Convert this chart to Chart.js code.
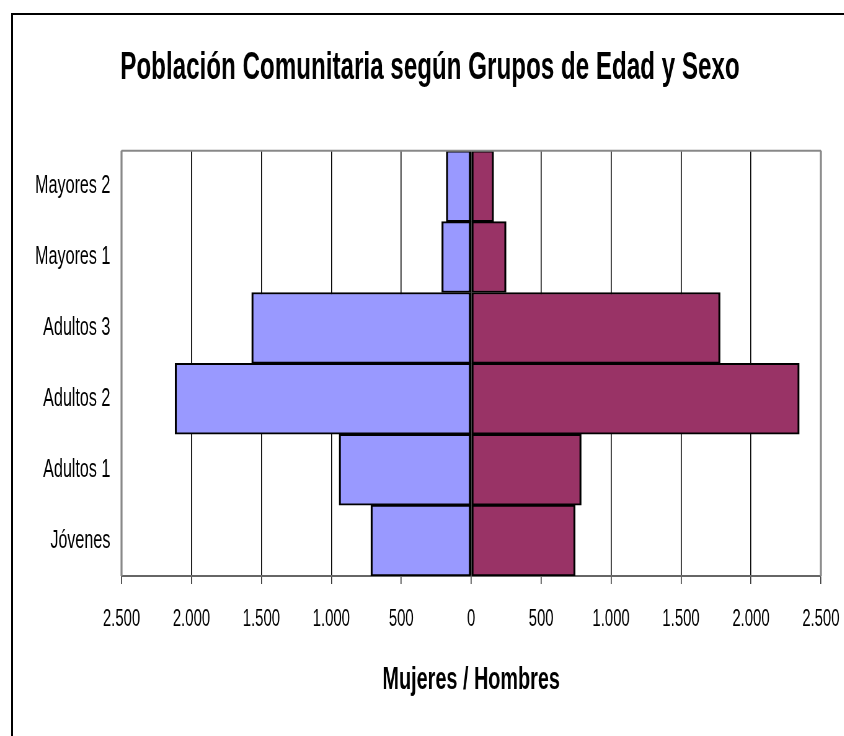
<!DOCTYPE html>
<html>
<head>
<meta charset="utf-8">
<script src="https://cdn.jsdelivr.net/npm/chart.js@4.4.0/dist/chart.umd.min.js"></script>
<style>
  body { margin: 0; background: #fff; overflow: hidden; }
  .frame {
    position: absolute; left: 11px; top: 13px; width: 900px; height: 800px;
    border: 2px solid #000;
  }
  /* the original text is very condensed, so the chart is drawn wide and squeezed */
  .wrap { position: absolute; left: 0; top: 0; width: 844px; height: 736px; overflow: hidden; }
  #chart { transform: scaleX(0.62); transform-origin: 0 0; }
</style>
</head>
<body>
<div class="frame"></div>
<div class="wrap"><canvas id="chart" width="1361" height="736"></canvas></div>
<script>
// age groups, top to bottom
const groups = ['Mayores 2', 'Mayores 1', 'Adultos 3', 'Adultos 2', 'Adultos 1', 'Jóvenes'];
const mujeres = [179, 211, 1570, 2118, 945, 718];
const hombres = [161, 250, 1780, 2346, 787, 744];
const tickValues = [-2500, -2000, -1500, -1000, -500, 0, 500, 1000, 1500, 2000, 2500];

const SX = 0.62; // horizontal squeeze, see css
const FONT = "'Liberation Sans', Arial, sans-serif";

// thousands with a dot, no sign
const fmt = v => Math.abs(v).toString().replace(/\B(?=(\d{3})+(?!\d))/g, '.');

// grey frame round the plot area
const plotBorder = {
  id: 'plotBorder',
  afterDraw(chart) {
    const { ctx, chartArea: a } = chart;
    ctx.save();
    ctx.strokeStyle = '#888';
    ctx.lineWidth = 2;
    ctx.beginPath();
    ctx.moveTo(a.left, a.top);
    ctx.lineTo(a.right, a.top);
    ctx.stroke();
    ctx.lineWidth = 2 / SX;
    ctx.beginPath();
    ctx.moveTo(a.left, a.bottom);
    ctx.lineTo(a.left, a.top);
    ctx.moveTo(a.right, a.top);
    ctx.lineTo(a.right, a.bottom);
    ctx.stroke();
    ctx.restore();
  }
};

const barBorder = { top: 2, bottom: 2, left: 2 / SX, right: 2 / SX };

new Chart(document.getElementById('chart'), {
  type: 'bar',
  data: {
    labels: groups,
    datasets: [
      {
        label: 'Mujeres',
        data: mujeres.map(v => -v),
        backgroundColor: '#9999FF',
        borderColor: '#000',
        borderWidth: barBorder,
        borderSkipped: false,
        barPercentage: 1,
        categoryPercentage: 1,
      },
      {
        label: 'Hombres',
        data: hombres,
        backgroundColor: '#993366',
        borderColor: '#000',
        borderWidth: barBorder,
        borderSkipped: false,
        barPercentage: 1,
        categoryPercentage: 1,
      },
    ],
  },
  options: {
    indexAxis: 'y',
    responsive: false,
    animation: false,
    // left padding only moves the title a bit to the right, like the original
    layout: { padding: { left: 63, right: 37, top: 0, bottom: 0 } },
    plugins: {
      legend: { display: false },
      tooltip: { enabled: false },
      title: {
        display: true,
        text: 'Población Comunitaria según Grupos de Edad y Sexo',
        color: '#000',
        font: { family: FONT, size: 39, weight: 'bold', lineHeight: 1.2 },
        padding: { top: 45, bottom: 59 },
      },
    },
    scales: {
      x: {
        stacked: true,
        min: -2500,
        max: 2500,
        afterBuildTicks: scale => { scale.ticks = tickValues.map(v => ({ value: v })); },
        afterFit: scale => {
          scale.height = 160;
          scale.paddingLeft = 0;
          scale.paddingRight = 0;
        },
        ticks: {
          callback: v => fmt(v),
          color: '#000',
          font: { family: FONT, size: 24 },
          padding: 21,
          maxRotation: 0,
          autoSkip: false,
        },
        grid: { color: '#000', lineWidth: 1 / SX, tickLength: 8, tickColor: '#333' },
        border: { color: '#666', width: 2 },
        title: {
          display: true,
          text: 'Mujeres / Hombres',
          color: '#000',
          font: { family: FONT, size: 32, weight: 'bold', lineHeight: 1.2 },
          padding: { top: 10, bottom: 37 },
        },
      },
      y: {
        stacked: true,
        afterFit: scale => {
          scale.width = 133;
          // labels reach into the left padding, don't clip them
          scale._computeLabelArea = () => undefined;
        },
        ticks: {
          color: '#000',
          font: { family: FONT, size: 26 },
          padding: 10,
        },
        grid: { display: false },
        border: { display: false },
      },
    },
  },
  plugins: [plotBorder],
});
</script>
</body>
</html>
